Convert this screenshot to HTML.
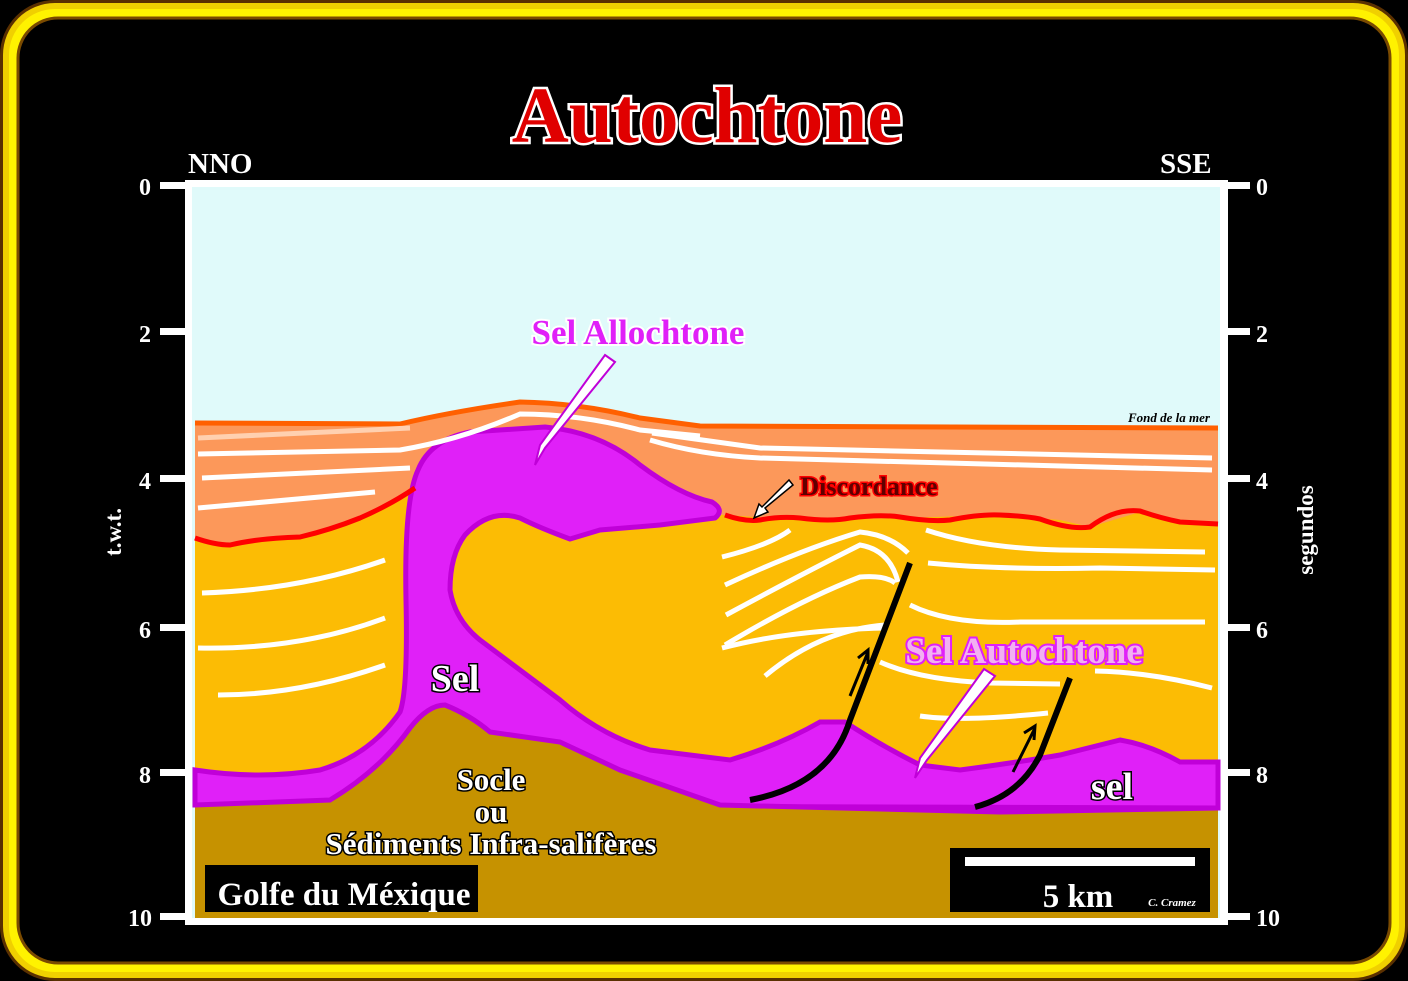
<!DOCTYPE html>
<html><head><meta charset="utf-8"><style>
html,body{margin:0;padding:0;background:#000;width:1408px;height:981px;overflow:hidden}
svg{display:block}
text{font-family:"Liberation Serif",serif;font-weight:bold}
</style></head><body>
<svg width="1408" height="981" viewBox="0 0 1408 981" xmlns="http://www.w3.org/2000/svg">
<rect x="0" y="0" width="1408" height="981" rx="55" fill="#5a3000"/>
<rect x="3" y="3" width="1402" height="975" rx="52" fill="#f0d000"/>
<rect x="9" y="9" width="1390" height="963" rx="46" fill="#fff200"/>
<rect x="18" y="18" width="1372" height="945" rx="40" fill="#000" stroke="#7a4a00" stroke-width="3"/>

<text x="707" y="142" text-anchor="middle" font-size="79" fill="#e00000" stroke="#fff" stroke-width="5" paint-order="stroke">Autochtone</text>
<text x="188" y="173" font-size="29" fill="#fff">NNO</text>
<text x="1160" y="173" font-size="29" fill="#fff">SSE</text>

<rect x="185" y="180" width="1043" height="745" fill="#fff"/>
<rect x="192" y="187" width="1028" height="731" fill="#e0fafa"/>

<g fill="#fff">
<rect x="160" y="182" width="25" height="7"/><rect x="160" y="328" width="25" height="7"/><rect x="160" y="475" width="25" height="7"/><rect x="160" y="624" width="25" height="7"/><rect x="160" y="769" width="25" height="7"/><rect x="160" y="913" width="25" height="7"/>
<rect x="1228" y="182" width="22" height="7"/><rect x="1228" y="328" width="22" height="7"/><rect x="1228" y="475" width="22" height="7"/><rect x="1228" y="624" width="22" height="7"/><rect x="1228" y="769" width="22" height="7"/><rect x="1228" y="913" width="22" height="7"/>
</g>
<g fill="#fff" font-size="24" text-anchor="middle">
<text x="145" y="195">0</text><text x="145" y="342">2</text><text x="145" y="489">4</text><text x="145" y="638">6</text><text x="145" y="783">8</text><text x="140" y="926">10</text>
<text x="1262" y="195">0</text><text x="1262" y="342">2</text><text x="1262" y="489">4</text><text x="1262" y="638">6</text><text x="1262" y="783">8</text><text x="1268" y="926">10</text>
</g>
<text transform="translate(121,532) rotate(-90)" text-anchor="middle" font-size="23" fill="#fff">t.w.t.</text>
<text transform="translate(1313,530) rotate(-90)" text-anchor="middle" font-size="23" fill="#fff">segundos</text>

<path d="M195,423 L400,424 Q450,412 520,402 Q580,403 640,418 L700,426 L1218,428 L1218,918 L195,918 Z" fill="#fc985a"/>
<path d="M195,538 L230,545 L300,537 L360,518 L415,488 L560,510 L725,515 L800,520 L900,518 L1000,515 L1060,520 L1090,527 L1140,512 L1180,522 L1218,524 L1218,918 L195,918 Z" fill="#fcbc04"/>
<path d="M195,770 Q260,780 320,770 Q370,755 400,712 Q408,690 406,600 Q404,500 418,470 Q430,440 470,432 L545,427 Q600,432 640,465 Q680,495 712,502 Q725,510 715,518 L660,525 L600,530 L570,539 Q540,528 520,518 Q490,508 465,535 Q450,555 450,590 Q455,620 480,640 Q520,670 560,700 Q600,735 650,750 L730,760 Q780,745 820,722 L845,722 Q880,745 920,765 L960,770 Q1020,762 1060,755 L1120,740 Q1150,745 1180,762 L1218,762 L1218,808 L195,805 Z" fill="#e020f8" stroke="#c000d8" stroke-width="5"/>
<path d="M195,805 L330,800 Q380,770 410,728 Q428,705 445,705 Q470,715 490,732 L560,742 L620,770 L720,805 L1000,812 L1218,808 L1218,918 L195,918 Z" fill="#c69200"/>
<path d="M195,805 L330,800 Q380,770 410,728 Q428,705 445,705 Q470,715 490,732 L560,742 L620,770 L720,805 L1000,812 L1218,808" fill="none" stroke="#c000d8" stroke-width="5"/>

<path d="M195,423 L400,424 Q450,412 520,402 Q580,403 640,418 L700,426 L1218,428" fill="none" stroke="#ff6000" stroke-width="5"/>
<path d="M195,538 Q215,545 230,545 Q260,538 300,537 Q330,530 360,518 Q390,505 415,488" fill="none" stroke="#f00" stroke-width="5"/>
<path d="M725,515 Q745,522 760,520 Q780,516 800,518 Q830,522 850,518 Q880,514 900,517 Q930,522 950,520 Q980,514 1000,515 Q1025,516 1040,519 Q1070,530 1090,527 Q1115,508 1140,511 Q1160,518 1180,522 L1218,524" fill="none" stroke="#f00" stroke-width="5"/>

<g fill="none" stroke="#fff" stroke-width="5">
<path d="M198,438 L410,428" stroke="#ffd0b0"/>
<path d="M198,454 L400,450 Q460,440 520,414 Q580,414 640,430 L700,436" />
<path d="M652,433 L760,448 L1212,458"/>
<path d="M650,440 Q700,455 760,458 L1212,470"/>
<path d="M202,478 L410,468"/>
<path d="M198,508 L375,492"/>
<path d="M202,593 Q300,590 385,560"/>
<path d="M198,648 Q300,650 385,618"/>
<path d="M218,695 Q300,695 385,665"/>
<path d="M722,557 Q770,545 790,530"/>
<path d="M725,585 Q800,550 860,532 Q890,535 908,553"/>
<path d="M726,615 Q800,575 860,545 Q890,550 898,582"/>
<path d="M725,645 Q800,600 860,577 Q885,575 895,583"/>
<path d="M722,648 Q790,630 885,628"/>
<path d="M765,676 Q820,630 885,625"/>
<path d="M926,530 Q980,548 1060,550 L1205,552"/>
<path d="M928,563 Q1000,570 1100,568 L1215,570"/>
<path d="M910,605 Q950,625 1020,622 L1205,622"/>
<path d="M880,662 Q920,680 990,683 L1060,684"/>
<path d="M1095,671 Q1150,672 1212,688"/>
<path d="M920,716 Q960,722 1048,713"/>
</g>

<g fill="none" stroke="#000" stroke-width="6">
<path d="M750,800 Q830,785 850,720 L910,563"/>
<path d="M975,807 Q1020,795 1040,755 L1070,678"/>
</g>
<g fill="none" stroke="#000" stroke-width="3">
<path d="M850,696 L868,652 M858,658 L868,650 L868,664"/>
<path d="M1013,772 L1035,728 M1024,733 L1035,726 L1034,740"/>
</g>

<path d="M605,355 L615,362 L545,448 L535,465 L540,445 Z" fill="#fff" stroke="#c000d8" stroke-width="2"/>
<path d="M984,669 L995,676 L927,760 L915,778 L920,758 Z" fill="#fff" stroke="#c000d8" stroke-width="2"/>
<path d="M789,480 L793,485 L765,508 L768,512 L754,518 L759,504 L762,507 Z" fill="#fff" stroke="#000" stroke-width="1.5"/>

<text x="638" y="344" text-anchor="middle" font-size="35" fill="#e020f8" stroke="#fff" stroke-width="4" paint-order="stroke">Sel Allochtone</text>
<text x="1024" y="663" text-anchor="middle" font-size="37" fill="#f2b0f2" stroke="#e020f8" stroke-width="4" paint-order="stroke">Sel Autochtone</text>
<text x="869" y="495" text-anchor="middle" font-size="26" fill="#600000" stroke="#f00" stroke-width="3" paint-order="stroke">Discordance</text>
<text x="1210" y="422" text-anchor="end" font-size="13" font-style="italic" fill="#000">Fond de la mer</text>
<g fill="#fff" stroke="#000" stroke-width="3" paint-order="stroke" text-anchor="middle">
<text x="455" y="691" font-size="38">Sel</text>
<text x="1112" y="799" font-size="38">sel</text>
<text x="491" y="790" font-size="31">Socle</text>
<text x="491" y="822" font-size="31">ou</text>
<text x="491" y="854" font-size="31">Sédiments Infra-salifères</text>
</g>

<rect x="205" y="865" width="273" height="47" fill="#000"/>
<text x="344" y="905" text-anchor="middle" font-size="33" font-weight="normal" fill="#fff">Golfe du Méxique</text>
<rect x="950" y="848" width="260" height="64" fill="#000"/>
<rect x="965" y="857" width="230" height="9" fill="#fff"/>
<text x="1078" y="907" text-anchor="middle" font-size="33" fill="#fff">5 km</text>
<text x="1172" y="906" text-anchor="middle" font-size="11" font-style="italic" font-weight="normal" fill="#fff">C. Cramez</text>
</svg>
</body></html>
